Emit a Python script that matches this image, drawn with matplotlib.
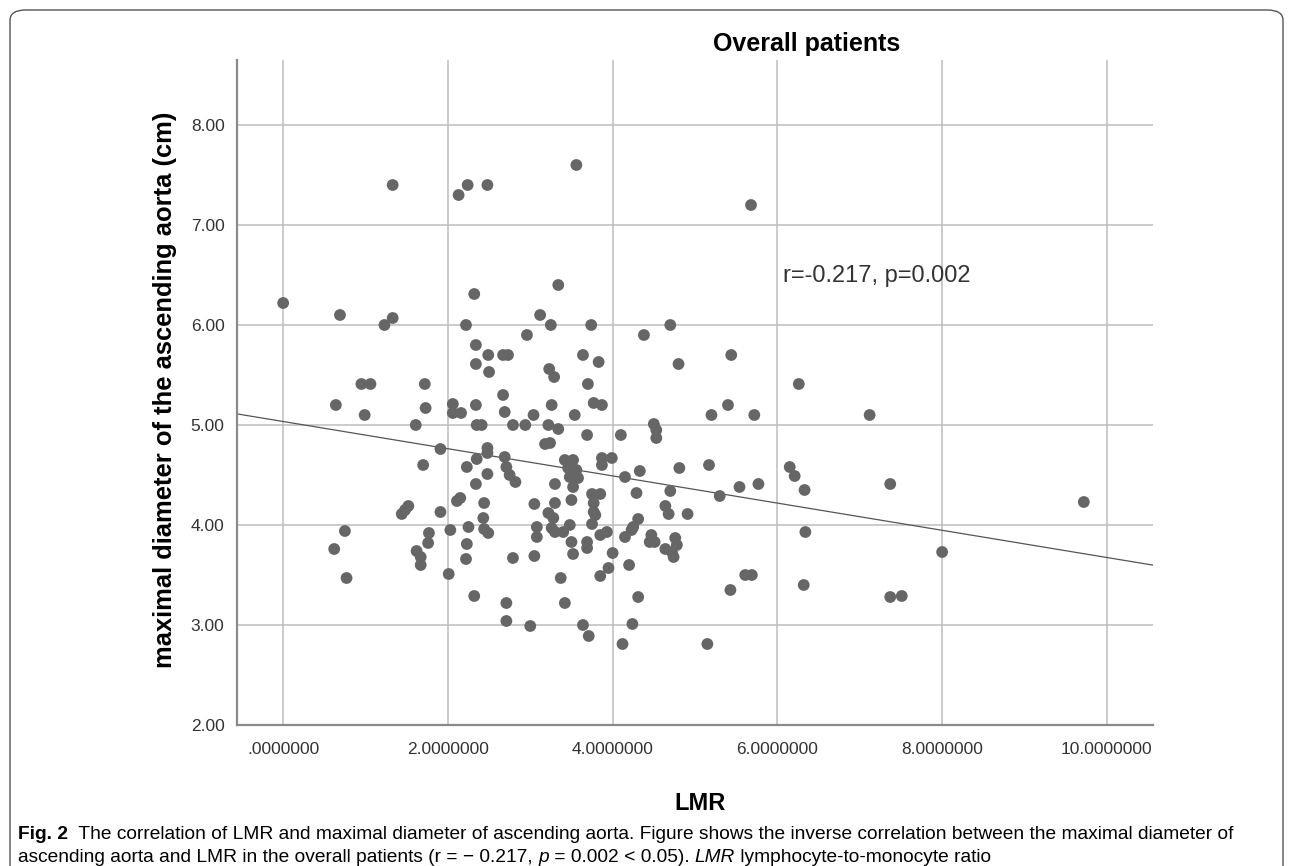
import matplotlib
matplotlib.use("Agg")
import matplotlib.pyplot as plt
from matplotlib.patches import FancyBboxPatch

# Valores: LMR (eje x) y diametro maximo de la aorta ascendente (eje y)
lmr = [1.33, 2.24, 2.13, 2.48, 3.56, 5.68,
       0.00, 0.69, 1.33, 1.23, 2.32, 3.34, 2.22, 3.12, 3.25, 3.74, 2.96, 4.38, 4.70,
       2.34, 2.49, 2.67, 2.73, 3.64, 5.44,
       2.34, 2.50, 3.83, 4.80, 3.23, 3.29, 3.70, 0.95, 1.06, 1.72, 6.26,
       0.64, 0.99, 1.73, 1.61,
       2.06, 2.06, 2.16,
       2.34, 2.67, 2.69, 2.35, 2.41, 2.79, 2.94, 3.04, 3.26, 3.54, 3.22, 3.34, 3.77, 3.87, 3.69, 4.10, 4.50, 4.53, 4.53,
       5.40, 5.20, 5.72, 7.12,
       3.18, 3.24, 1.91, 2.48, 2.48, 2.35, 2.23, 1.70,
       2.69, 2.71, 2.75, 2.82, 2.48, 2.34,
       3.42, 3.52, 3.46, 3.56, 3.48, 3.58, 3.52, 3.30,
       3.87, 3.99, 3.87, 4.15, 4.33, 4.81, 4.70, 4.29,
       5.17, 5.54, 5.77, 5.30, 6.15, 6.21, 6.33, 7.37, 9.72,
       2.15, 2.11, 2.44, 2.43, 1.91, 1.52, 1.48, 1.44,
       3.50, 3.75, 3.85, 3.77, 3.77, 3.79, 3.05, 3.30,
       3.22, 3.28, 3.26, 3.30, 3.75, 3.48, 3.40, 3.08, 3.08,
       4.64, 4.68, 4.91, 4.31, 4.25, 4.23, 4.15, 3.93, 3.85,
       4.47, 4.51, 4.45, 4.76, 4.78, 4.72, 4.74, 4.64,
       3.50, 3.52, 3.69, 3.69, 4.00, 3.95, 3.85, 4.20, 3.37, 3.42, 4.31,
       3.64, 3.71, 4.24, 4.12, 3.00, 2.71, 2.71, 2.32, 2.79, 3.05,
       2.03, 2.25, 2.23, 2.22, 2.44, 2.49, 2.01,
       1.77, 1.76, 1.62, 1.67, 1.67, 0.75, 0.62, 0.77,
       6.34, 8.00, 5.61, 5.69, 5.43, 6.32, 7.37, 7.51, 5.15]
diametro = [7.40, 7.40, 7.30, 7.40, 7.60, 7.20,
            6.22, 6.10, 6.07, 6.00, 6.31, 6.40, 6.00, 6.10, 6.00, 6.00, 5.90, 5.90, 6.00,
            5.80, 5.70, 5.70, 5.70, 5.70, 5.70,
            5.61, 5.53, 5.63, 5.61, 5.56, 5.48, 5.41, 5.41, 5.41, 5.41, 5.41,
            5.20, 5.10, 5.17, 5.00,
            5.21, 5.12, 5.12,
            5.20, 5.30, 5.13, 5.00, 5.00, 5.00, 5.00, 5.10, 5.20, 5.10, 5.00, 4.96, 5.22, 5.20, 4.90, 4.90, 5.01, 4.95, 4.87,
            5.20, 5.10, 5.10, 5.10,
            4.81, 4.82, 4.76, 4.77, 4.72, 4.66, 4.58, 4.60,
            4.68, 4.58, 4.50, 4.43, 4.51, 4.41,
            4.65, 4.65, 4.57, 4.55, 4.48, 4.47, 4.38, 4.41,
            4.67, 4.67, 4.60, 4.48, 4.54, 4.57, 4.34, 4.32,
            4.60, 4.38, 4.41, 4.29, 4.58, 4.49, 4.35, 4.41, 4.23,
            4.27, 4.24, 4.22, 4.07, 4.13, 4.19, 4.15, 4.11,
            4.25, 4.31, 4.31, 4.22, 4.13, 4.10, 4.21, 4.22,
            4.12, 4.07, 3.97, 3.93, 4.01, 4.00, 3.93, 3.98, 3.88,
            4.19, 4.11, 4.11, 4.06, 3.98, 3.95, 3.88, 3.93, 3.90,
            3.90, 3.83, 3.83, 3.87, 3.80, 3.73, 3.68, 3.76,
            3.83, 3.71, 3.83, 3.77, 3.72, 3.57, 3.49, 3.60, 3.47, 3.22, 3.28,
            3.00, 2.89, 3.01, 2.81, 2.99, 3.22, 3.04, 3.29, 3.67, 3.69,
            3.95, 3.98, 3.81, 3.66, 3.96, 3.92, 3.51,
            3.92, 3.82, 3.74, 3.68, 3.60, 3.94, 3.76, 3.47,
            3.93, 3.73, 3.50, 3.50, 3.35, 3.40, 3.28, 3.29, 2.81]

# Recta de regresion tal como aparece en la figura
recta_intercepto = 5.035
recta_pendiente = -0.136
recta_x = [-0.56, 10.56]

xticks = [0, 2, 4, 6, 8, 10]
xtick_labels = [".0000000", "2.0000000", "4.0000000", "6.0000000", "8.0000000", "10.0000000"]
yticks = [2, 3, 4, 5, 6, 7, 8]
ytick_labels = ["2.00", "3.00", "4.00", "5.00", "6.00", "7.00", "8.00"]

W, H = 1293, 866
fig = plt.figure(figsize=(W / 100, H / 100), dpi=100)
plt.rcParams["font.family"] = ["Liberation Sans", "DejaVu Sans"]

# Marco redondeado alrededor de la figura (se corta por abajo)
marco = FancyBboxPatch((10 / W, -0.2), 1273 / W, 1.2 - 10 / H,
                       boxstyle="round,pad=0,rounding_size=0.012",
                       transform=fig.transFigure, fill=False,
                       edgecolor="#555555", linewidth=1.0)
fig.patches.append(marco)

ax = fig.add_axes([237 / W, 1 - 725 / H, (1153 - 237) / W, (725 - 60) / H])
ax.set_xlim(-0.56, 10.56)
ax.set_ylim(2.0, 8.65)

ax.scatter(lmr, diametro, s=72, color="#666666", edgecolors="none", zorder=3)

recta_y = [recta_intercepto + recta_pendiente * v for v in recta_x]
ax.plot(recta_x, recta_y, color="#555555", linewidth=0.9, zorder=2)

ax.set_xticks(xticks)
ax.set_xticklabels(xtick_labels)
ax.set_yticks(yticks)
ax.set_yticklabels(ytick_labels)
ax.tick_params(length=0, labelsize=12.5, labelcolor="#333333")
ax.tick_params(axis="x", pad=12)
ax.tick_params(axis="y", pad=9)
ax.grid(True, color="#bdbdbd", linewidth=1.1)
ax.set_axisbelow(True)
for lado in ["top", "right"]:
    ax.spines[lado].set_visible(False)
for lado in ["left", "bottom"]:
    ax.spines[lado].set_color("#8a8a8a")
    ax.spines[lado].set_linewidth(1.6)

ax.text(6.07, 6.49, "r=-0.217, p=0.002", fontsize=17, color="#333333", va="center", ha="left")

# Titulos y etiquetas de los ejes
fig.text(807 / W, 1 - 44 / H, "Overall patients", fontsize=18, fontweight="bold", ha="center", va="center")
fig.text(165 / W, 1 - 390 / H, "maximal diameter of the ascending aorta (cm)", fontsize=18.4,
         fontweight="bold", rotation=90, ha="center", va="center")
fig.text(700 / W, 1 - 803 / H, "LMR", fontsize=17, fontweight="bold", ha="center", va="center")

# Pie de figura con partes en negrita y cursiva
fuente_pie = ["Liberation Sans", "DejaVu Sans"]
tam_pie = 13.8
t = fig.text(18 / W, 1 - 839 / H, "Fig. 2", fontsize=tam_pie, fontweight="bold", family=fuente_pie)
t = ax.annotate("  The correlation of LMR and maximal diameter of ascending aorta. Figure shows the inverse correlation between the maximal diameter of",
                xy=(1, 0), xycoords=t, fontsize=tam_pie, family=fuente_pie, va="bottom", ha="left", annotation_clip=False)

partes = [("ascending aorta and LMR in the overall patients (r = − 0.217, ", "normal"),
          ("p", "italic"),
          (" = 0.002 < 0.05). ", "normal"),
          ("LMR", "italic"),
          (" lymphocyte-to-monocyte ratio", "normal")]
previo = fig.text(18 / W, 1 - 862 / H, partes[0][0], fontsize=tam_pie, family=fuente_pie)
for texto, estilo in partes[1:]:
    previo = ax.annotate(texto, xy=(1, 0), xycoords=previo, fontsize=tam_pie, family=fuente_pie,
                         style=estilo, va="bottom", ha="left", annotation_clip=False)

fig.savefig("out.png", dpi=100)
